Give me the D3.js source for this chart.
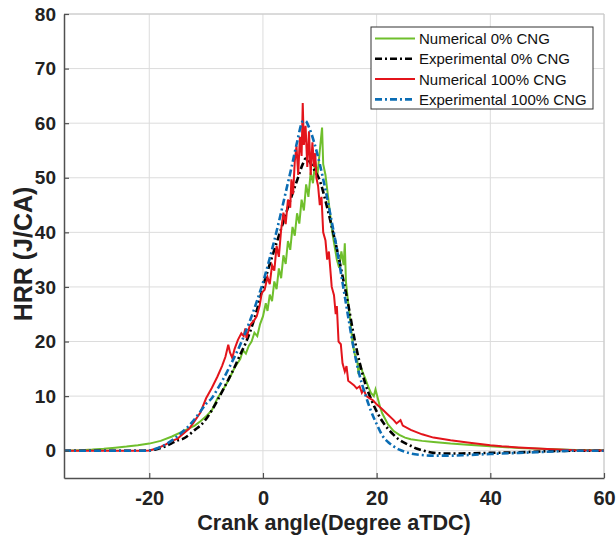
<!DOCTYPE html>
<html><head><meta charset="utf-8">
<script src="https://cdn.jsdelivr.net/npm/d3@7"></script>
<style>
html,body{margin:0;padding:0;background:#fff;}
svg{display:block;font-family:"Liberation Sans",Arial,Helvetica,sans-serif;}
</style></head>
<body>
<svg id="chart" width="616" height="541"></svg>
<script>
// ---- data ----
const xTicks = [-20, 0, 20, 40, 60];
const yTicks = [0, 10, 20, 30, 40, 50, 60, 70, 80];
const seriesNames = ["Numerical 0% CNG", "Experimental 0% CNG", "Numerical 100% CNG", "Experimental 100% CNG"];

const num0X = [-35,-32,-30,-28,-26,-24,-22,-20,-18,-16,-14,-12,-11,-10,-9,-8,-7,-6,-5,-4,-3.5,-3,-2.5,-2,-1.5,-1,-0.5,0,0.5,0.8,1.2,1.6,2,2.4,2.8,3.2,3.6,4,4.4,4.8,5.2,5.6,6,6.4,6.8,7.2,7.6,8,8.4,8.8,9.2,9.6,10,10.4,10.6,11,11.4,11.8,12.2,12.6,13,13.4,13.8,14.2,14.4,14.6,15,15.4,15.8,16.2,16.6,16.8,17,17.5,18,18.5,19,19.5,19.8,20.2,20.6,21,22,23,24,25,26,28,30,33,36,40,45,50,55,60];
const num0Y = [0,0.1,0.2,0.35,0.55,0.75,1.0,1.3,1.8,2.6,3.6,4.6,5.4,6.3,7.4,9.6,11.2,13.0,15.2,16.8,18.4,17.8,19.2,20.0,21.6,21.0,23.2,24.6,27.0,25.6,28.6,27.4,31.0,29.6,33.4,31.6,35.8,34.2,38.4,36.8,41.0,39.4,43.5,41.6,46.0,44.0,48.8,46.5,51.0,49.0,53.0,50.5,55.0,59.2,52.5,50.5,47.0,43.5,40.0,37.5,35.0,33.5,36.5,34.0,38.0,31.0,27.0,23.5,19.5,17.5,16.5,14.0,16.0,14.5,13.2,11.8,10.6,10.0,11.2,9.6,8.0,6.8,4.8,3.6,2.9,2.4,2.1,1.8,1.6,1.3,1.1,0.8,0.5,0.3,0.15,0.1];

const exp0X = [-35,-30,-25,-21,-20,-19,-18,-17,-16,-15,-14,-13,-12,-11,-10,-9,-8,-7,-6,-5,-4,-3,-2,-1,0,1,2,3,4,5,6,7,7.5,8,9,10,11,12,13,14,15,16,17,18,19,20,21,22,23,24,25,26,27,28,29,30,32,35,40,45,50,55,60];
const exp0Y = [0,0,0,0,0.05,0.2,0.5,0.9,1.4,1.9,2.2,2.9,3.8,4.6,5.8,7.4,9.2,11.2,13.2,15.3,17.6,19.8,22.6,26.0,30.0,33.5,36.8,40.0,43.3,46.5,49.5,52.5,53.5,53.2,51.5,49.5,45.8,41.5,37.0,32.0,26.8,21.0,16.2,12.3,9.5,7.2,5.4,4.0,2.9,2.0,1.4,0.9,0.4,0.1,-0.2,-0.4,-0.5,-0.5,-0.4,-0.3,-0.1,0,0];

const num100X = [-35,-25,-21,-20,-19,-18,-17,-16,-15,-14.6,-13,-12.3,-11,-10,-9,-8,-7.2,-6.6,-6.1,-5.8,-5.4,-5,-4.4,-3.8,-3.4,-3.1,-2.9,-2.3,-1.6,-1.1,-0.6,-0.2,0.3,0.8,1.2,1.6,2.0,2.4,2.8,3.2,3.6,4.0,4.4,4.8,5.0,5.3,5.6,5.9,6.2,6.5,6.8,7.0,7.2,7.5,7.8,8.1,8.4,8.7,9.0,9.2,9.4,9.7,10.0,10.3,10.6,11.0,11.3,11.6,12.1,12.5,12.8,13.0,13.3,13.7,14.0,14.4,14.7,15.0,15.5,16.0,16.5,17.0,17.4,17.7,18.2,18.8,19.4,20,21,22,23,23.5,24.2,24.6,26,28,30,33,36,40,42,45,50,55,60];
const num100Y = [0,0,0,0.05,0.3,0.7,1.2,1.8,2.2,2.6,4.0,5.0,7.0,9.6,11.5,13.6,15.5,17.2,19.4,18.0,17.0,18.6,20.3,21.5,21.0,22.4,20.6,23.0,23.8,24.6,26.5,28.9,29.5,31.8,30.5,34.0,33.0,37.5,35.5,40.5,43.6,41.5,46.0,44.5,49.7,47.0,53.0,55.8,50.5,57.5,54.0,63.7,56.0,59.5,52.0,58.5,50.5,56.5,52.0,54.5,50.0,48.5,45.0,46.5,40.0,38.5,35.0,36.5,30.0,28.5,25.0,26.5,20.0,19.5,16.0,14.5,15.5,12.8,12.4,12.0,11.4,11.8,10.6,11.2,10.0,9.6,9.2,8.5,7.6,6.6,5.6,5.0,5.6,4.6,3.8,3.0,2.4,1.9,1.5,1.0,0.8,0.6,0.3,0.1,0.05];

const exp100X = [-35,-30,-25,-21,-20,-19,-18,-17,-16,-15,-14,-13,-12,-11,-10,-9,-8,-7,-6,-5,-4,-3,-2,-1,0,1,2,3,4,5,6,7,7.5,8,9,10,11,12,13,14,15,16,17,18,19,20,21,22,23,24,25,26,28,30,33,36,40,45,50,55,60];
const exp100Y = [0,0,0,0,0.05,0.3,0.7,1.2,1.9,2.7,3.6,4.6,5.8,7.2,8.6,9.6,11.3,13.1,15.1,17.2,19.4,21.9,24.6,27.6,30.8,34.5,38.5,42.8,47.3,51.8,56.5,60.3,60.4,59.5,56.5,52.5,47.8,42.5,37.0,30.8,24.5,18.5,13.8,10.3,7.3,4.9,2.8,1.6,0.8,0.2,-0.2,-0.5,-0.8,-0.9,-0.9,-0.8,-0.6,-0.4,-0.2,0,0];

// ---- layout ----
const W = 616, H = 541;
const m = {left: 64, right: 12, top: 14, bottom: 63};
const svg = d3.select("#chart");
const x = d3.scaleLinear().domain([-35, 60]).range([m.left, W - m.right]);
const y = d3.scaleLinear().domain([-5, 80]).range([H - m.bottom, m.top]);

// grid
const grid = svg.append("g");
grid.selectAll("line.gx").data(xTicks).join("line")
  .attr("x1", d => x(d)).attr("x2", d => x(d))
  .attr("y1", y(-5)).attr("y2", y(80))
  .attr("stroke", "#dcdcdc").attr("stroke-width", 1);
grid.selectAll("line.gy").data(yTicks).join("line")
  .attr("x1", x(-35)).attr("x2", x(60))
  .attr("y1", d => y(d)).attr("y2", d => y(d))
  .attr("stroke", "#dcdcdc").attr("stroke-width", 1);

// box top/right
svg.append("path")
  .attr("d", `M${x(-35)},${y(80)}H${x(60)}V${y(-5)}`)
  .attr("fill", "none").attr("stroke", "#c8c8c8").attr("stroke-width", 1);

// lines
const makeLine = (xs, ys) => xs.map((v, i) => [v, ys[i]]);
const lineGen = d3.line().x(d => x(d[0])).y(d => y(d[1]));
const smoothGen = d3.line().x(d => x(d[0])).y(d => y(d[1])).curve(d3.curveMonotoneX);

const plot = svg.append("g");
plot.append("path").datum(makeLine(num0X, num0Y)).attr("d", lineGen)
  .attr("fill", "none").attr("stroke", "#6fbf2c").attr("stroke-width", 2);
plot.append("path").datum(makeLine(exp0X, exp0Y)).attr("d", smoothGen)
  .attr("fill", "none").attr("stroke", "#000").attr("stroke-width", 2.6)
  .attr("stroke-dasharray", "7,3,2,3");
plot.append("path").datum(makeLine(num100X, num100Y)).attr("d", lineGen)
  .attr("fill", "none").attr("stroke", "#e3141b").attr("stroke-width", 2);
plot.append("path").datum(makeLine(exp100X, exp100Y)).attr("d", smoothGen)
  .attr("fill", "none").attr("stroke", "#0b6db4").attr("stroke-width", 2.6)
  .attr("stroke-dasharray", "7,3,2,3");

// axes
const fmt = d => String(d);
const xAxis = d3.axisBottom(x).tickValues(xTicks).tickFormat(fmt).tickSizeInner(-5).tickSizeOuter(0).tickPadding(13);
const yAxis = d3.axisLeft(y).tickValues(yTicks).tickFormat(fmt).tickSizeInner(-5).tickSizeOuter(0).tickPadding(8);
const gx = svg.append("g").attr("transform", `translate(0,${y(-5)})`).call(xAxis);
const gy = svg.append("g").attr("transform", `translate(${x(-35)},0)`).call(yAxis);
[gx, gy].forEach(g => {
  g.select(".domain").attr("stroke", "#505050").attr("stroke-width", 1.5);
  g.selectAll(".tick line").attr("stroke", "#505050").attr("stroke-width", 1.2);
  g.selectAll(".tick text").attr("fill", "#222").attr("font-weight", "bold")
    .attr("font-family", "Liberation Sans, Arial, sans-serif");
});
gx.selectAll(".tick text").attr("font-size", 20);
gy.selectAll(".tick text").attr("font-size", 19);

// titles
svg.append("text").attr("x", (x(-35) + x(60)) / 2).attr("y", 530)
  .attr("text-anchor", "middle").attr("font-size", 21.6).attr("font-weight", "bold").attr("fill", "#222")
  .text("Crank angle(Degree aTDC)");
svg.append("text").attr("transform", `translate(32,254) rotate(-90)`)
  .attr("text-anchor", "middle").attr("font-size", 25).attr("font-weight", "bold").attr("fill", "#222")
  .text("HRR (J/CA)");

// legend
const colors = ["#6fbf2c", "#000", "#e3141b", "#0b6db4"];
const dashes = [null, "7,3,2,3", null, "7,3,2,3"];
const leg = svg.append("g");
leg.append("rect").attr("x", 371).attr("y", 27).attr("width", 222).attr("height", 82)
  .attr("fill", "#fff").attr("stroke", "#333").attr("stroke-width", 1);
const rows = leg.selectAll("g.row").data(seriesNames).join("g")
  .attr("transform", (d, i) => `translate(0,${38.5 + i * 20.3})`);
rows.append("line").attr("x1", 375).attr("x2", 415).attr("y1", 0).attr("y2", 0)
  .attr("stroke", (d, i) => colors[i]).attr("stroke-width", (d, i) => dashes[i] ? 2.6 : 2)
  .attr("stroke-dasharray", (d, i) => dashes[i]);
rows.append("text").attr("x", 419).attr("y", 5.5).attr("font-size", 15).attr("fill", "#111")
  .text(d => d);
</script>
</body></html>
